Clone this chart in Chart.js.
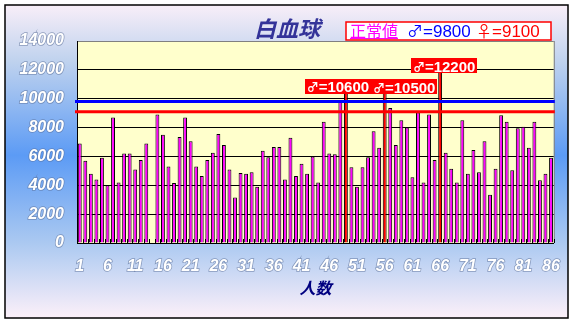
<!DOCTYPE html>
<html>
<head>
<meta charset="utf-8">
<script src="https://cdn.jsdelivr.net/npm/chart.js@4/dist/chart.umd.min.js"></script>
<style>
  body { margin: 0; background: #fff; }
  canvas { display: block; }
</style>
</head>
<body>
<canvas id="wbcChart" width="574" height="324"></canvas>
<script>
// subject numbers 1..86
var people = Array.from({ length: 86 }, function (_, i) { return i + 1; });
var tickLabels = [1, 6, 11, 16, 21, 26, 31, 36, 41, 46, 51, 56, 61, 66, 71, 76, 81, 86];

// white blood cell count per person (no reading for #14)
var wbc = [
  6900, 5700, 4800, 4400, 5900, 4000, 8700, 4200, 6200, 6200,
  5100, 5750, 6900, null, 8900, 7500, 5300, 4150, 7350, 8700,
  7050, 5300, 4650, 5750, 6250, 7550, 6800, 5100, 3150, 4850,
  4800, 4900, 3900, 6400, 5950, 6650, 6650, 4400, 7300, 4650,
  5500, 4800, 6000, 4200, 8400, 6200, 6150, 9900, 10600, 5250,
  3900, 5250, 5950, 7750, 6600, 10500, 9350, 6800, 8500, 8000,
  4550, 9050, 4200, 8900, 5750, 12200, 6250, 5150, 4200, 8500,
  4800, 6450, 4900, 7050, 3350, 5150, 8850, 8400, 5050, 7950,
  8050, 6600, 8400, 4350, 4800, 5900
];

// males above the normal range
var flaggedMale = [49, 56, 66];

// normal values
var maleNormal = 9800;
var femaleNormal = 9100;

var yTicks = [0, 2000, 4000, 6000, 8000, 10000, 12000, 14000];

var SYM_FONT = '"Noto Sans CJK JP", sans-serif';
var NUM_FONT = '"Liberation Sans", sans-serif';

// draws a list of [text, font] runs left to right, returns total width
function drawRuns(ctx, runs, x, y, measureOnly) {
  var w = 0;
  runs.forEach(function (r) {
    ctx.font = r[1];
    if (!measureOnly) ctx.fillText(r[0], x + w, y);
    w += ctx.measureText(r[0]).width;
  });
  return w;
}

var backdrop = {
  id: 'backdrop',
  beforeDraw: function (chart) {
    var ctx = chart.ctx, a = chart.chartArea;
    ctx.save();
    ctx.fillStyle = '#fff';
    ctx.fillRect(0, 0, chart.width, chart.height);
    var g = ctx.createLinearGradient(0, 5, 0, 318);
    g.addColorStop(0, '#f8eef8');
    g.addColorStop(0.18, '#bfd2ee');
    g.addColorStop(0.48, '#5c9bf5');
    g.addColorStop(0.76, '#abc9f1');
    g.addColorStop(1, '#fcf0f9');
    ctx.fillStyle = g;
    ctx.fillRect(5, 5, 563, 313);
    ctx.strokeStyle = '#000';
    ctx.lineWidth = 1.5;
    ctx.strokeRect(5, 5, 563, 313);
    ctx.fillStyle = '#ffffcc';
    ctx.fillRect(a.left, a.top, a.right - a.left, a.bottom - a.top);
    ctx.restore();
  },
  afterDatasetsDraw: function (chart, args, opts) {
    var ctx = chart.ctx, a = chart.chartArea;
    var y = chart.scales.y;
    var meta = chart.getDatasetMeta(0);
    ctx.save();

    // right edge of the plot
    ctx.strokeStyle = '#808080';
    ctx.lineWidth = 1;
    ctx.beginPath();
    ctx.moveTo(a.right + 0.5, a.top);
    ctx.lineTo(a.right + 0.5, a.bottom);
    ctx.stroke();

    // short inner tick marks between categories
    var slot = (a.right - a.left) / people.length;
    ctx.strokeStyle = '#000';
    ctx.beginPath();
    for (var i = 0; i <= people.length; i++) {
      var tx = Math.round(a.left + i * slot) + 0.5;
      ctx.moveTo(tx, a.bottom);
      ctx.lineTo(tx, a.bottom - 4);
    }
    ctx.stroke();

    // normal value lines
    ctx.lineWidth = 3;
    [[maleNormal, '#0000ff'], [femaleNormal, '#ff0000']].forEach(function (n) {
      var py = y.getPixelForValue(n[0]);
      ctx.strokeStyle = n[1];
      ctx.beginPath();
      ctx.moveTo(a.left - 2, py);
      ctx.lineTo(a.right + 1, py);
      ctx.stroke();
    });

    // value callouts for the flagged bars
    ctx.textAlign = 'left';
    ctx.textBaseline = 'alphabetic';
    flaggedMale.forEach(function (n, k) {
      var bar = meta.data[n - 1];
      var runs = [['♂', 'bold 12px ' + SYM_FONT], ['=' + wbc[n - 1], 'bold 15px ' + NUM_FONT]];
      var tw = drawRuns(ctx, runs, 0, 0, true);
      var w = Math.max(tw + 4, 63);
      var h = 15;
      var cx = bar.x + opts.shift[k][0];
      var cy = bar.y + opts.shift[k][1];
      ctx.fillStyle = '#ff0000';
      ctx.fillRect(Math.round(cx - w / 2), Math.round(cy - h / 2), Math.round(w), h);
      ctx.fillStyle = '#ffffff';
      drawRuns(ctx, runs, cx - tw / 2, cy + 6);
    });
    ctx.restore();
  },
  afterDraw: function (chart) {
    var ctx = chart.ctx;
    ctx.save();
    // title
    ctx.font = 'italic bold 22px "Noto Sans CJK JP", sans-serif';
    ctx.fillStyle = '#333399';
    ctx.textAlign = 'center';
    ctx.textBaseline = 'middle';
    ctx.fillText('白血球', 287, 29);

    // normal values box
    ctx.fillStyle = '#ffffff';
    ctx.fillRect(346, 22, 205, 18);
    ctx.strokeStyle = '#ff0000';
    ctx.lineWidth = 1.5;
    ctx.strokeRect(346, 22, 205, 18);
    ctx.textAlign = 'left';
    ctx.textBaseline = 'alphabetic';

    ctx.fillStyle = '#ff00ff';
    var w0 = drawRuns(ctx, [['正常値', '16px ' + SYM_FONT]], 350, 37);
    ctx.fillRect(350, 38, w0, 1);

    ctx.fillStyle = '#0000ff';
    drawRuns(ctx, [['♂', '16px ' + SYM_FONT], ['=' + maleNormal, '17px ' + NUM_FONT]], 407, 37);

    ctx.fillStyle = '#ff0000';
    drawRuns(ctx, [['♀', '16px ' + SYM_FONT], ['=' + femaleNormal, '17px ' + NUM_FONT]], 476, 37);
    ctx.restore();
  }
};

var tickFont = { family: NUM_FONT, size: 16, weight: 'bold', style: 'italic' };

new Chart('wbcChart', {
  type: 'bar',
  data: {
    labels: people,
    datasets: [{
      data: wbc,
      backgroundColor: function (c) { return flaggedMale.indexOf(c.index + 1) >= 0 ? '#ff0000' : '#ff00ff'; },
      borderColor: '#000000',
      borderWidth: 1,
      barPercentage: 0.7,
      categoryPercentage: 1
    }]
  },
  options: {
    responsive: false,
    animation: false,
    devicePixelRatio: 1,
    layout: { padding: { top: 41, right: 14, left: 0, bottom: 0 } },
    plugins: {
      legend: { display: false },
      tooltip: { enabled: false },
      backdrop: { shift: [[-8, -4], [19.5, -5], [4, -1]] }
    },
    scales: {
      x: {
        afterFit: function (s) { s.height = 81; },
        grid: { display: true, drawOnChartArea: false, drawTicks: false },
        border: { display: true, color: '#000000', width: 1 },
        ticks: {
          autoSkip: false,
          maxRotation: 0,
          padding: 14,
          color: '#ffffff',
          textStrokeColor: 'rgba(90,110,150,0.6)',
          textStrokeWidth: 1.5,
          font: tickFont,
          callback: function (v, i) { return tickLabels.indexOf(people[i]) >= 0 ? String(people[i]) : ''; }
        },
        title: {
          display: true,
          text: '人数',
          color: '#000080',
          padding: { top: 0, bottom: 26 },
          font: { family: SYM_FONT, size: 16, weight: 'bold', style: 'italic' }
        }
      },
      y: {
        min: 0,
        max: 14000,
        afterFit: function (s) { s.width = 77; },
        afterBuildTicks: function (s) { s.ticks = yTicks.map(function (v) { return { value: v }; }); },
        grid: {
          drawTicks: false,
          color: function (c) { return c.tick && c.tick.value === 14000 ? '#808080' : '#000000'; },
          lineWidth: 1
        },
        border: { display: true, color: '#000000', width: 1 },
        ticks: {
          padding: 13,
          color: '#ffffff',
          textStrokeColor: 'rgba(90,110,150,0.6)',
          textStrokeWidth: 1.5,
          font: tickFont,
          callback: function (v) { return String(v); }
        }
      }
    }
  },
  plugins: [backdrop]
});
</script>
</body>
</html>
